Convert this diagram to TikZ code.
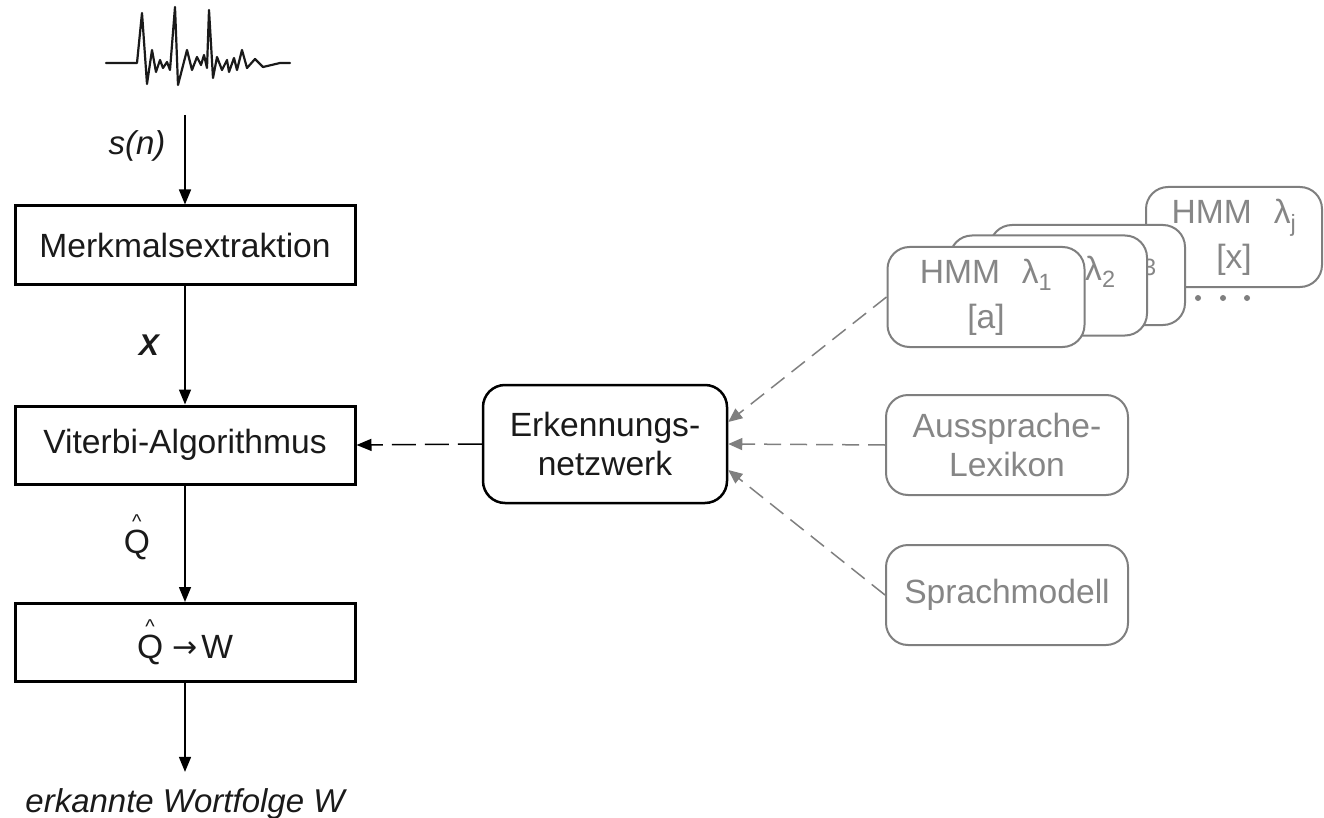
\documentclass[tikz,border=0pt]{standalone}
\usepackage{fontspec}
\setmainfont{Liberation Sans}
\newfontfamily\arrowfont{DejaVu Sans}
\usetikzlibrary{arrows.meta}

\definecolor{ink}{HTML}{1A1A1A}
\definecolor{soft}{HTML}{7F7F7F}
\definecolor{softtext}{HTML}{868686}

% Q with a small caret set above it
\newcommand\qhat{\makebox[0pt][l]{\hspace{8.3pt}\raisebox{24.5pt}{\fontsize{20}{20}\selectfont\textasciicircum}}Q}

\begin{document}
\begin{tikzpicture}[x=1pt,y=-1pt,
  every node/.style={font=\fontsize{33.6}{39}\selectfont, text=ink},
  block/.style={draw=black, line width=3pt, minimum width=340pt, minimum height=78pt, inner sep=0pt},
  netbox/.style={draw=black, line width=2.5pt, rounded corners=22pt, minimum width=244pt, minimum height=118pt, align=center, inner sep=0pt},
  srcbox/.style={draw=soft, line width=2pt, rounded corners=22pt, fill=white, text=softtext, align=center, minimum width=242pt, minimum height=100pt, inner sep=0pt},
  hmmbox/.style={srcbox, minimum width=197pt},
  hmmtag/.style={anchor=base west, inner sep=0pt, text=softtext},
  flow/.style={-{Triangle[length=15pt,width=12pt]}, line width=1.5pt, draw=black},
  feed/.style={-{Triangle[length=15pt,width=12pt]}, line width=1.5pt, draw=black, dash pattern=on 24pt off 9pt},
  srcfeed/.style={-{Triangle[length=14pt,width=12pt]}, line width=1.5pt, draw=soft, dash pattern=on 17pt off 9pt},
  lbl/.style={anchor=base, inner sep=0pt}
]
\useasboundingbox (0,0) rectangle (1324,818);

% speech signal
\draw[line width=2.2pt, line join=round, line cap=round, ink] plot coordinates {
  (106,63) (137,63) (142,13) (147,84) (152,50) (156,72) (160,60) (163,68)
  (167,62) (170,70) (175,7) (178,85) (187,50) (192,70) (197,57) (201,65)
  (204,55) (207,68) (209,10) (213,78) (217,57) (222,70) (227,60) (229,72)
  (234,58) (237,70) (242,50) (247,68) (255,59) (263,67) (280,63) (290,63)};

% processing chain
\coordinate (sig) at (185,115);
\node[block] (merk) at (185,245) {Merkmalsextraktion};
\node[block] (vit)  at (185,445) {Viterbi-Algorithmus};
\node[block] (qw)   at (185,642.5) {\qhat\hspace{9pt}\raisebox{1pt}{\arrowfont\fontsize{30}{30}\selectfont →}\hspace{4pt}W};
\node[anchor=base, inner xsep=0pt, inner ysep=16pt, font=\fontsize{33}{39}\selectfont\itshape] (out) at (185,812) {erkannte Wortfolge W};

\draw[flow] (sig) -- (merk.north);
\draw[flow] (merk.south) -- (vit.north);
\draw[flow] (vit.south) -- (qw.north);
\draw[flow] (qw.south) -- (out.north);

\node[lbl, font=\fontsize{33}{39}\selectfont\itshape] (slab) at (137,155) {s(n)};
\node[lbl, font=\fontsize{30}{36}\selectfont\bfseries\itshape] (xlab) at (149,355) {X};
\node[lbl] (qlab) at (137,553) {\qhat};

% recognition network
\node[netbox] (erk) at (605,444) {Erkennungs-\\netzwerk};
\coordinate (e1) at ([yshift=22pt]erk.east);
\coordinate (e3) at ([yshift=-26pt]erk.east);
\draw[feed] (erk.west) -- (vit.east);

% stack of phoneme HMMs, back to front
\node[hmmbox, minimum width=176pt] (hmmj) at (1234,237) {HMM\hspace{0.65em}λ\textsubscript{j}\\[6pt]{[x]}};
\node[hmmbox, minimum width=195pt] (hmm3) at (1087.5,275) {};
\node[hmmtag] (tag3) at (1126,268) {λ\textsubscript{3}};
\node[hmmbox] (hmm2) at (1048.5,285.5) {};
\node[hmmtag] (tag2) at (1085,280) {λ\textsubscript{2}};
\node[hmmbox] (hmm1) at (986,297) {HMM\hspace{0.65em}λ\textsubscript{1}\\[6pt]{[a]}};
\foreach \dx [count=\i] in {1198,1223,1247}
  \fill[soft] (\dx,298) circle (3pt) coordinate (dot\i);

% lexicon and language model
\node[srcbox] (aus) at (1007,445) {Aussprache-\\Lexikon};
\node[srcbox] (spr) at (1007,595) {Sprachmodell};

\draw[srcfeed] (hmm1.west) -- (e1);
\draw[srcfeed] (aus.west) -- (erk.east);
\draw[srcfeed] (spr.west) -- (e3);
\end{tikzpicture}
\end{document}
